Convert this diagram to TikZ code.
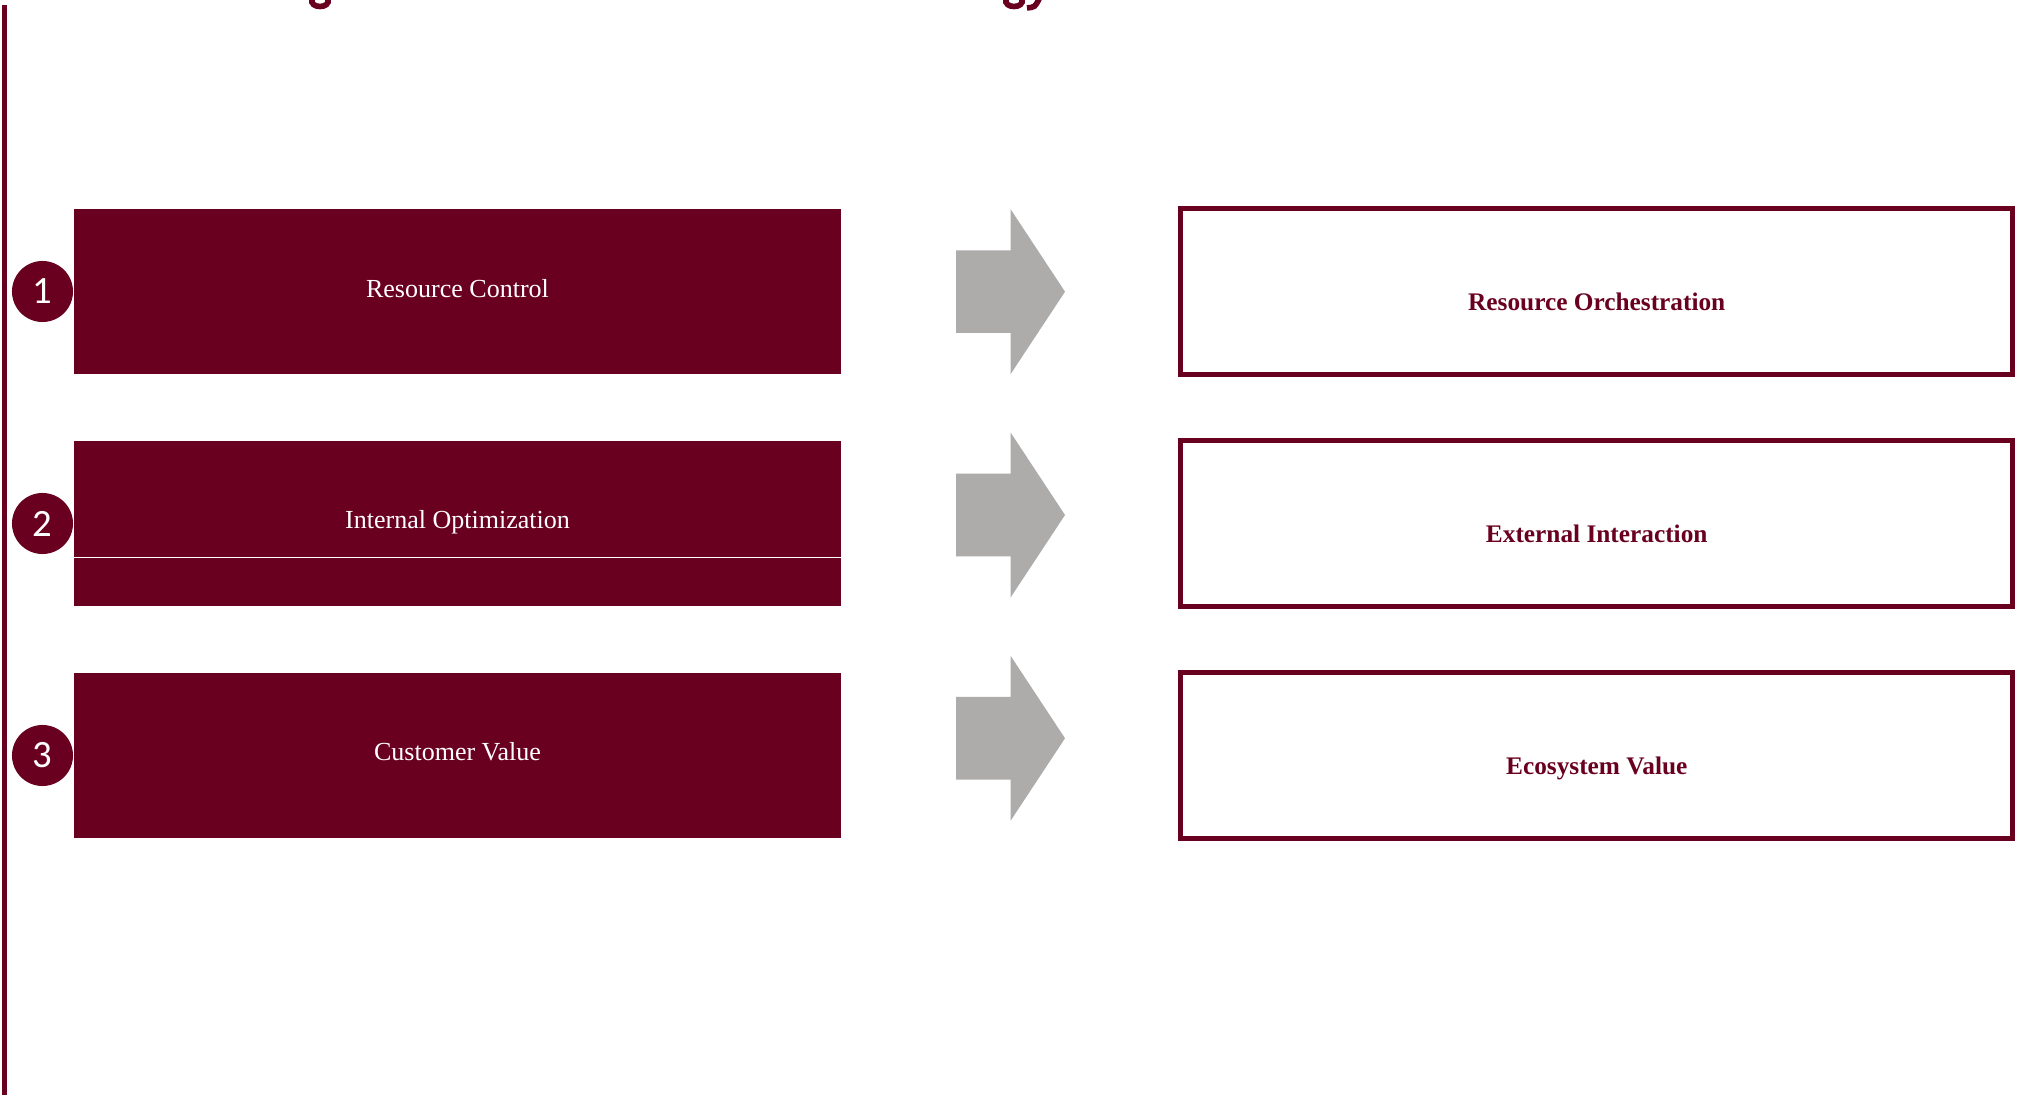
\documentclass[tikz,border=0pt]{standalone}
\usepackage{fontspec}
\setmainfont{Liberation Serif}
\newfontfamily\numfont{Carlito}
\definecolor{maroon}{HTML}{6A0020}
\definecolor{arrowgray}{HTML}{AEABAB}
\begin{document}
\begin{tikzpicture}[x=0.01cm,y=-0.01cm,
  leftbox/.style={rectangle, fill=maroon, draw=none, minimum width=7.67cm, minimum height=1.65cm, inner sep=0pt},
  rightbox/.style={rectangle, draw=maroon, line width=1.42pt, fill=white, minimum width=8.315cm, minimum height=1.65cm, inner sep=0pt},
  lefttext/.style={anchor=base, text=white, font=\fontsize{7.4}{9}\selectfont, inner sep=0pt},
  righttext/.style={anchor=base, text=maroon, font=\fontsize{7.2}{9}\selectfont\bfseries, inner sep=0pt},
  numcircle/.style={circle, fill=maroon, minimum size=0.61cm, inner sep=0pt, text=white, font=\numfont\fontsize{11}{13}\selectfont},
  bigarrow/.style={fill=arrowgray, draw=none},
  frag/.style={draw=maroon, line width=1.6pt}]
\useasboundingbox (0,0) rectangle (2022,1095);
\clip (0,0) rectangle (2022,1095);

% cut-off title descenders
\draw[frag] (312,-1) .. controls (309,9) and (331,9) .. (328,-1);
\draw[frag] (1006,-1) .. controls (1003,9) and (1025,9) .. (1022,-1);
\draw[frag] (1039,-1) .. controls (1035,7) .. (1027,8);

% vertical rule
\draw[maroon, line width=1.42pt] (4.2,5) -- (4.2,1095);

% left boxes
\node[leftbox] (l1) at (457.5,291.5) {};
\node[leftbox] (l2) at (457.5,523.5) {};
\node[leftbox] (l3) at (457.5,755.5) {};
\draw[white, line width=0.35pt] ([yshift=0.49cm]l2.south west) -- ([yshift=0.49cm]l2.south east);
\node[lefttext] (lt1) at (457.5,297.3) {Resource Control};
\node[lefttext] (lt2) at (457.5,529.0) {Internal Optimization};
\node[lefttext] (lt3) at (457.5,761.0) {Customer Value};

% number circles
\node[numcircle] (c1) at (42.5,291.5) {1};
\node[numcircle] (c2) at (42.5,523.5) {2};
\node[numcircle] (c3) at (42.5,755.5) {3};

% arrows
\foreach \cy/\nm in {291.7/a1, 515/a2, 738.3/a3}{
  \fill[bigarrow] (956,{\cy-41.3}) -- (1010.7,{\cy-41.3}) -- (1010.7,{\cy-82.3}) -- (1065,\cy)
    -- (1010.7,{\cy+82.3}) -- (1010.7,{\cy+41.3}) -- (956,{\cy+41.3}) -- cycle;
}

% right boxes
\node[rightbox] (r1) at (1596.25,291.5) {};
\node[rightbox] (r2) at (1596.25,523.5) {};
\node[rightbox] (r3) at (1596.25,755.5) {};
\node[righttext] (rt1) at (1596.7,310.7) {Resource Orchestration};
\node[righttext] (rt2) at (1596.7,542.7) {External Interaction};
\node[righttext] (rt3) at (1596.7,774.7) {Ecosystem Value};
\end{tikzpicture}
\end{document}
